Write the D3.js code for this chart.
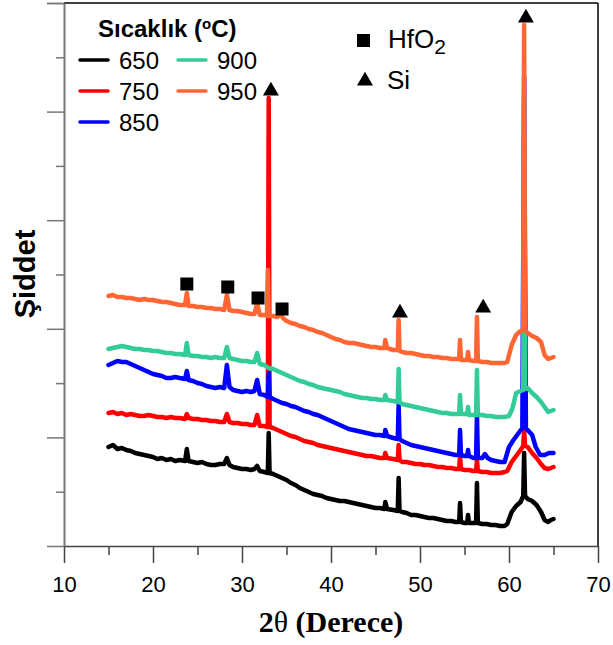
<!DOCTYPE html>
<html>
<head>
<meta charset="utf-8">
<script src="https://cdn.jsdelivr.net/npm/d3@7"></script>
<style>
  body { margin: 0; background: #fff; }
  svg { display: block; font-family: "Liberation Sans", Arial, sans-serif; }
</style>
</head>
<body>
<script>
// XRD patterns, 2θ (deg) vs intensity (a.u.)
const temps = ["650", "750", "850", "900", "950"];
const colors = ["#000000", "#ff0000", "#0000ff", "#33cc99", "#ff6633"];

const s650 = [[15,99],[15.5,101],[16,97],[16.5,98],[17,96],[17.5,95],[18,93],[18.5,92],[19,91],[19.5,90],[20,89],[20.5,87],[21,88],[21.5,86],[22,87],[22.5,85],[23,86],[23.6,85],[23.8,97],[24,85],[24.5,84],[25,83],[25.5,84],[26,82],[26.5,81],[27,81],[27.5,82],[28,82],[28.3,88],[28.6,81],[29,79],[29.5,78],[30,77],[30.5,77],[31,76],[31.4,77],[31.7,80],[32,75],[32.5,74],[32.9,73],[33,113],[33.1,73],[33.5,72],[34,70],[34.5,68],[35,66],[35.5,63],[36,61],[36.5,58],[37,56],[37.5,54],[38,52],[38.5,51],[39,50],[39.5,48],[40,47],[40.5,46],[41,45],[41.5,45],[42,44],[42.5,43],[43,42],[43.5,41],[44,40],[44.5,39],[45,38],[45.5,38],[46,37],[46.1,44],[46.3,37],[47,36],[47.5,35],[47.6,68],[47.7,35],[48,34],[48.5,33],[49,31],[49.5,31],[50,30],[50.5,29],[51,28],[51.5,28],[52,27],[52.5,26],[53,25],[53.5,25],[54,24],[54.4,24],[54.5,43],[54.6,24],[55,23],[55.3,23],[55.4,31],[55.5,23],[56,23],[56.3,23],[56.4,63],[56.5,23],[57,22],[57.5,22],[58,21],[58.5,21],[59,20],[59.5,20],[59.8,22],[60.3,34],[60.8,40],[61.3,44],[61.6,50],[61.7,93],[61.8,50],[62.1,47],[62.6,45],[63.1,41],[63.6,34],[64,26],[64.4,24],[64.7,26],[65,27]];

const s750 = [[15,133],[15.5,134],[16,132],[16.5,133],[17,131],[17.5,132],[18,131],[18.5,130],[19,130],[19.5,131],[20,130],[20.5,129],[21,129],[21.5,128],[22,129],[22.5,128],[23,128],[23.6,127],[23.8,132],[24,128],[24.5,127],[25,127],[25.5,126],[26,126],[26.5,125],[27,125],[27.5,124],[28,124],[28.3,132],[28.6,124],[29,123],[29.5,123],[30,122],[30.5,122],[31,121],[31.4,121],[31.7,131],[32,120],[32.5,120],[32.9,119],[33,448],[33.1,119],[33.5,118],[34,116],[34.5,114],[35,112],[35.5,110],[36,109],[36.5,107],[37,105],[37.5,104],[38,103],[38.5,101],[39,100],[39.5,99],[40,98],[40.5,97],[41,96],[41.5,95],[42,94],[42.5,93],[43,92],[43.5,91],[44,90],[44.5,90],[45,89],[45.5,88],[46,88],[46.1,93],[46.3,88],[47,87],[47.5,86],[47.6,101],[47.7,86],[48,84],[48.5,84],[49,83],[49.5,82],[50,82],[50.5,81],[51,81],[51.5,80],[52,79],[52.5,79],[53,78],[53.5,78],[54,77],[54.4,77],[54.5,90],[54.6,77],[55,76],[55.5,76],[56,75],[56.3,75],[56.4,86],[56.5,75],[57,74],[57.5,74],[58,73],[58.5,73],[59,73],[59.5,74],[59.8,75],[60.3,84],[60.8,90],[61.3,96],[61.6,100],[61.7,116],[61.8,100],[62.1,99],[62.6,93],[63.1,88],[63.6,82],[64,78],[64.4,77],[64.7,78],[65,79]];

const s850 = [[15,181],[15.5,183],[16,185],[16.5,184],[17,184],[17.5,182],[18,180],[18.5,178],[19,176],[19.5,174],[20,172],[20.5,171],[21,170],[21.5,168],[22,168],[22.5,169],[23,168],[23.6,167],[23.8,175],[24,166],[24.5,165],[25,163],[25.5,162],[26,160],[26.5,159],[27,158],[27.5,159],[28,158],[28.3,181],[28.6,159],[29,156],[29.5,155],[30,154],[30.5,155],[31,154],[31.4,155],[31.7,166],[32,152],[32.5,151],[32.9,149],[33,173],[33.1,149],[33.5,147],[34,145],[34.5,143],[35,142],[35.5,140],[36,139],[36.5,137],[37,135],[37.5,134],[38,132],[38.5,131],[39,129],[39.5,127],[40,125],[40.5,123],[41,121],[41.5,119],[42,117],[42.5,116],[43,115],[43.5,114],[44,113],[44.5,112],[45,111],[45.5,111],[46,110],[46.1,116],[46.3,110],[47,108],[47.5,107],[47.6,141],[47.7,107],[48,105],[48.5,103],[49,101],[49.5,100],[50,99],[50.5,98],[51,97],[51.5,96],[52,95],[52.5,94],[53,93],[53.5,92],[54,91],[54.4,91],[54.5,116],[54.6,91],[55,90],[55.3,90],[55.4,96],[55.5,90],[56,88],[56.3,88],[56.4,131],[56.5,88],[57,88],[57.3,92],[57.6,88],[58,86],[58.5,85],[59,84],[59.5,84],[60,99],[60.5,106],[61,112],[61.5,118],[61.7,469],[61.9,118],[62.1,116],[62.6,111],[63,99],[63.5,91],[64,91],[64.5,93],[65,93]];

const s900 = [[15,197],[15.5,198],[16,199],[16.5,200],[17,199],[17.5,198],[18,197],[18.5,197],[19,196],[19.5,196],[20,195],[20.5,195],[21,194],[21.5,193],[22,193],[22.5,192],[23,192],[23.6,191],[23.8,203],[24,191],[24.5,190],[25,190],[25.5,189],[26,189],[26.5,188],[27,189],[27.5,188],[28,188],[28.3,199],[28.6,188],[29,187],[29.5,186],[30,185],[30.5,185],[31,184],[31.4,184],[31.7,193],[32,182],[32.5,181],[33,178],[33.5,177],[34,175],[34.5,173],[35,171],[35.5,169],[36,167],[36.5,165],[37,164],[37.5,162],[38,161],[38.5,159],[39,158],[39.5,157],[40,156],[40.5,155],[41,154],[41.5,152],[42,151],[42.5,150],[43,149],[43.5,148],[44,148],[44.5,147],[45,147],[45.5,146],[46,146],[46.1,151],[46.3,146],[47,145],[47.5,144],[47.6,177],[47.7,144],[48,142],[48.5,141],[49,140],[49.5,139],[50,138],[50.5,137],[51,136],[51.5,135],[52,134],[52.5,133],[53,133],[53.5,132],[54,132],[54.4,132],[54.5,151],[54.6,132],[55,132],[55.3,132],[55.4,139],[55.5,131],[56,131],[56.3,131],[56.4,176],[56.5,131],[57,131],[57.5,130],[58,130],[58.5,129],[59,129],[59.5,129],[60,130],[60.4,138],[60.8,153],[61.3,155],[61.6,156],[61.7,450],[61.8,157],[62.1,158],[62.6,153],[63.1,149],[63.6,144],[64,139],[64.4,134],[64.7,135],[65,136]];

const s950 = [[15,250],[15.5,251],[16,249],[16.5,249],[17,248],[17.5,248],[18,247],[18.5,246],[19,247],[19.5,246],[20,246],[20.5,245],[21,244],[21.5,244],[22,243],[22.5,242],[23,241],[23.6,241],[23.8,253],[24,240],[24.5,240],[25,239],[25.5,239],[26,238],[26.5,238],[27,237],[27.5,237],[28,236],[28.3,251],[28.6,236],[29,235],[29.5,235],[30,234],[30.5,233],[31,232],[31.4,232],[31.7,243],[32,231],[32.5,231],[32.8,230],[32.9,276],[33,230],[33.5,230],[34,229],[34.3,233],[34.6,228],[35,225],[35.5,223],[36,222],[36.5,220],[37,219],[37.5,217],[38,216],[38.5,214],[39,213],[39.5,211],[40,209],[40.5,207],[41,206],[41.5,204],[42,203],[42.5,203],[43,202],[43.5,201],[44,200],[44.5,199],[45,199],[45.5,198],[46,198],[46.1,206],[46.3,198],[47,196],[47.5,196],[47.6,226],[47.7,195],[48,194],[48.5,193],[49,193],[49.5,192],[50,191],[50.5,190],[51,190],[51.5,189],[52,189],[52.5,188],[53,188],[53.5,187],[54,187],[54.4,187],[54.5,206],[54.6,186],[55,186],[55.3,186],[55.4,194],[55.5,186],[56,185],[56.3,185],[56.4,229],[56.5,185],[57,184],[57.5,184],[58,183],[58.5,183],[59,183],[59.5,183],[59.8,184],[60.3,201],[60.8,211],[61.3,215],[61.6,216],[61.7,521],[61.8,216],[62.1,213],[62.6,210],[63.1,208],[63.6,204],[64,191],[64.4,187],[64.7,188],[65,189]];

const series = [s650, s750, s850, s900, s950];

// phase markers [2θ, intensity]
const hfo2Marks = [[23.8,262],[28.4,259],[31.8,248],[34.5,237]];
const siMarks = [[33.25,455],[61.9,528],[47.75,233],[57.1,238]];

const xTicks = [10, 20, 30, 40, 50, 60, 70];
const xMinor = [15, 25, 35, 45, 55, 65];
const yStep = 54.3;

const W = 613, H = 645;
const svg = d3.select("body").append("svg")
  .attr("width", W).attr("height", H);

const x = d3.scaleLinear().domain([10, 70]).range([64, 598]);
const y = d3.scaleLinear().domain([0, 543]).range([546, 3]);

const yMajor = d3.range(0, 11, 2).map(i => i * yStep);
const yMinor = d3.range(1, 11, 2).map(i => i * yStep);

// frame: top + right
svg.append("line").attr("x1", x(10)).attr("x2", x(70)).attr("y1", y(543)).attr("y2", y(543))
  .attr("stroke", "#000").attr("stroke-width", 1.5);
svg.append("line").attr("x1", x(70)).attr("x2", x(70)).attr("y1", y(543)).attr("y2", y(0))
  .attr("stroke", "#000").attr("stroke-width", 1.5);

// x axis
const gx = svg.append("g").attr("transform", `translate(0,${y(0)})`)
  .call(d3.axisBottom(x).tickValues(xTicks).tickSize(17).tickSizeOuter(0).tickPadding(13));
gx.select(".domain").attr("stroke", "#444").attr("stroke-width", 1.5);
gx.selectAll(".tick line").attr("stroke", "#444").attr("stroke-width", 1.5);
gx.selectAll(".tick text").attr("font-size", 22).attr("font-family", "Liberation Sans, Arial, sans-serif").attr("fill", "#000");

const gxm = svg.append("g").attr("transform", `translate(0,${y(0)})`)
  .call(d3.axisBottom(x).tickValues(xMinor).tickSize(9).tickSizeOuter(0).tickFormat(""));
gxm.select(".domain").remove();
gxm.selectAll(".tick line").attr("stroke", "#444").attr("stroke-width", 1.5);

// y axis (no labels)
const gy = svg.append("g").attr("transform", `translate(${x(10)},0)`)
  .call(d3.axisLeft(y).tickValues(yMajor.concat([543])).tickSize(17).tickSizeOuter(0).tickFormat(""));
gy.select(".domain").attr("stroke", "#777").attr("stroke-width", 2);
gy.selectAll(".tick line").attr("stroke", "#777").attr("stroke-width", 1.5);

const gym = svg.append("g").attr("transform", `translate(${x(10)},0)`)
  .call(d3.axisLeft(y).tickValues(yMinor).tickSize(8).tickSizeOuter(0).tickFormat(""));
gym.select(".domain").remove();
gym.selectAll(".tick line").attr("stroke", "#777").attr("stroke-width", 1.5);

// curves
const line = d3.line().x(d => x(d[0])).y(d => y(d[1]));
series.forEach((s, i) => {
  svg.append("path")
    .datum(s)
    .attr("fill", "none")
    .attr("stroke", colors[i])
    .attr("stroke-width", 4.5)
    .attr("stroke-linejoin", "round")
    .attr("stroke-linecap", "round")
    .attr("d", line);
});

// HfO2 squares
const sq = 13;
svg.selectAll(".hfo").data(hfo2Marks).join("rect")
  .attr("x", d => x(d[0]) - sq / 2).attr("y", d => y(d[1]) - sq / 2)
  .attr("width", sq).attr("height", sq).attr("fill", "#000");

// Si triangles
const tri = d3.symbol().type(d3.symbolTriangle).size(110);
svg.selectAll(".si").data(siMarks).join("path")
  .attr("transform", d => `translate(${x(d[0])},${y(d[1])})`)
  .attr("d", tri).attr("fill", "#000");

// axis titles
svg.append("text")
  .attr("x", 331).attr("y", 632)
  .attr("text-anchor", "middle")
  .attr("font-family", "Liberation Serif, Times New Roman, serif")
  .attr("font-size", 30).attr("font-weight", "bold")
  .call(t => {
    t.append("tspan").text("2");
    t.append("tspan").attr("font-weight", "normal").text("θ");
    t.append("tspan").text(" (Derece)");
  });

svg.append("text")
  .attr("transform", "translate(35,274) rotate(-90)")
  .attr("text-anchor", "middle")
  .attr("font-size", 29).attr("font-weight", "bold")
  .text("Şiddet");

// temperature legend
const lg = svg.append("g");
lg.append("text").attr("x", 98).attr("y", 37)
  .attr("font-size", 24).attr("font-weight", "bold")
  .call(t => {
    t.append("tspan").text("Sıcaklık (");
    t.append("tspan").attr("font-size", 15).attr("dy", -8).text("o");
    t.append("tspan").attr("dy", 8).text("C)");
  });

const legPos = [[80, 60], [80, 91], [80, 122], [178, 60], [178, 91]];
temps.forEach((tname, i) => {
  const [lx, ly] = legPos[i];
  lg.append("line").attr("x1", lx).attr("x2", lx + 28).attr("y1", ly).attr("y2", ly)
    .attr("stroke", colors[i]).attr("stroke-width", 3.5).attr("stroke-linecap", "round");
  lg.append("text").attr("x", lx + 39).attr("y", ly + 8.5)
    .attr("font-size", 24).text(tname);
});

// phase legend
lg.append("rect").attr("x", 357).attr("y", 34).attr("width", 13).attr("height", 13).attr("fill", "#000");
lg.append("text").attr("x", 388).attr("y", 48).attr("font-size", 26)
  .call(t => {
    t.append("tspan").text("HfO");
    t.append("tspan").attr("font-size", 21).attr("dy", 6).text("2");
  });
lg.append("path").attr("transform", "translate(365,81)").attr("d", tri).attr("fill", "#000");
lg.append("text").attr("x", 387).attr("y", 89).attr("font-size", 26).text("Si");
</script>
</body>
</html>
